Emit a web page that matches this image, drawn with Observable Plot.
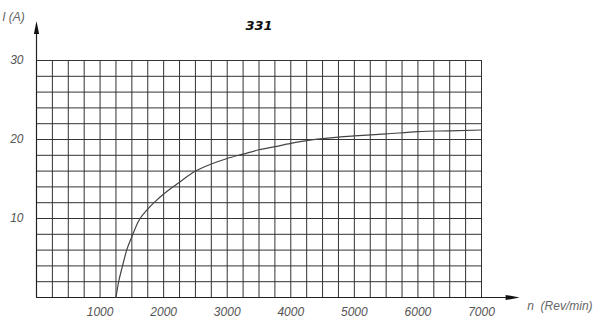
<!DOCTYPE html>
<html>
<head>
<meta charset="utf-8">
<script src="https://cdn.jsdelivr.net/npm/d3@7"></script>
<script src="https://cdn.jsdelivr.net/npm/@observablehq/plot@0.6"></script>
<style>
  html, body { margin: 0; padding: 0; background: #fff; }
</style>
</head>
<body>
<div id="chart"></div>
<script>
// Curve data
const rpm = [1250, 1290, 1350, 1415, 1500, 1600, 1750, 1875, 2000, 2250, 2500, 2750, 3000, 3250, 3500, 3750, 4000, 4250, 4500, 4750, 5000, 5500, 6000, 6500, 7000];
const current = [0, 1.9, 3.9, 5.9, 7.7, 9.6, 11.2, 12.2, 13.1, 14.6, 16.0, 16.9, 17.6, 18.15, 18.7, 19.1, 19.5, 19.85, 20.1, 20.3, 20.45, 20.7, 21.0, 21.1, 21.2];

// Tick labels and grid
const xTicks = [1000, 2000, 3000, 4000, 5000, 6000, 7000];
const yTicks = [10, 20, 30];
const xGrid = d3.range(250, 7001, 250);
const yGrid = d3.range(2, 31, 2);

const title = "331";
const yLabel = "I (A)";
const xLabel = "n  (Rev/min)";

const data = rpm.map((r, i) => ({rpm: r, I: current[i]}));

const arrowUp = {draw(ctx) { ctx.moveTo(0, 0); ctx.lineTo(2.6, 13); ctx.lineTo(-2.6, 13); ctx.closePath(); }};
const arrowRight = {draw(ctx) { ctx.moveTo(0, 0); ctx.lineTo(-14, -2.6); ctx.lineTo(-14, 2.6); ctx.closePath(); }};

const chart = Plot.plot({
  width: 600,
  height: 330,
  marginLeft: 36,
  marginRight: 119,
  marginTop: 60,
  marginBottom: 33,
  style: {background: "#fff", fontFamily: "Liberation Sans, Arial, sans-serif", fontStyle: "italic", fontSize: "12px", color: "#555"},
  x: {domain: [0, 7000], ticks: xTicks, tickSize: 0, tickPadding: 10, tickFormat: d => String(d), label: null},
  y: {domain: [0, 30], ticks: yTicks, tickSize: 0, tickPadding: 13, tickFormat: d => String(d), label: null},
  marks: [
    Plot.ruleX(xGrid, {y1: 0, y2: 30, stroke: "#333", strokeWidth: 1, strokeOpacity: 1}),
    Plot.ruleY(yGrid, {x1: 0, x2: 7000, stroke: "#333", strokeWidth: 1, strokeOpacity: 1}),
    Plot.ruleX([0], {y1: 0, y2: 33.5, stroke: "#222", strokeWidth: 1.2}),
    Plot.ruleY([0], {x1: 0, x2: 7400, stroke: "#222", strokeWidth: 1.2}),
    Plot.dot([{x: 0, y: 35}], {x: "x", y: "y", symbol: arrowUp, fill: "#111", stroke: "none"}),
    Plot.dot([{x: 7600, y: 0}], {x: "x", y: "y", symbol: arrowRight, fill: "#111", stroke: "none"}),
    Plot.line(data, {x: "rpm", y: "I", curve: "monotone-x", stroke: "#444", strokeWidth: 1.2}),
    Plot.text([title], {x: 3500, y: 34.4, text: d => d, fontWeight: "bold", fontStyle: "italic", fontSize: 13, fill: "#111", fontFamily: "DejaVu Sans"}),
    Plot.text([yLabel], {x: -540, y: 35.5, text: d => d, textAnchor: "start", fontSize: 12, fill: "#666"}),
    Plot.text([xLabel], {x: 7720, y: -1.1, text: d => d, textAnchor: "start", fontSize: 12, fill: "#666"})
  ]
});
document.getElementById("chart").appendChild(chart);
</script>
</body>
</html>
